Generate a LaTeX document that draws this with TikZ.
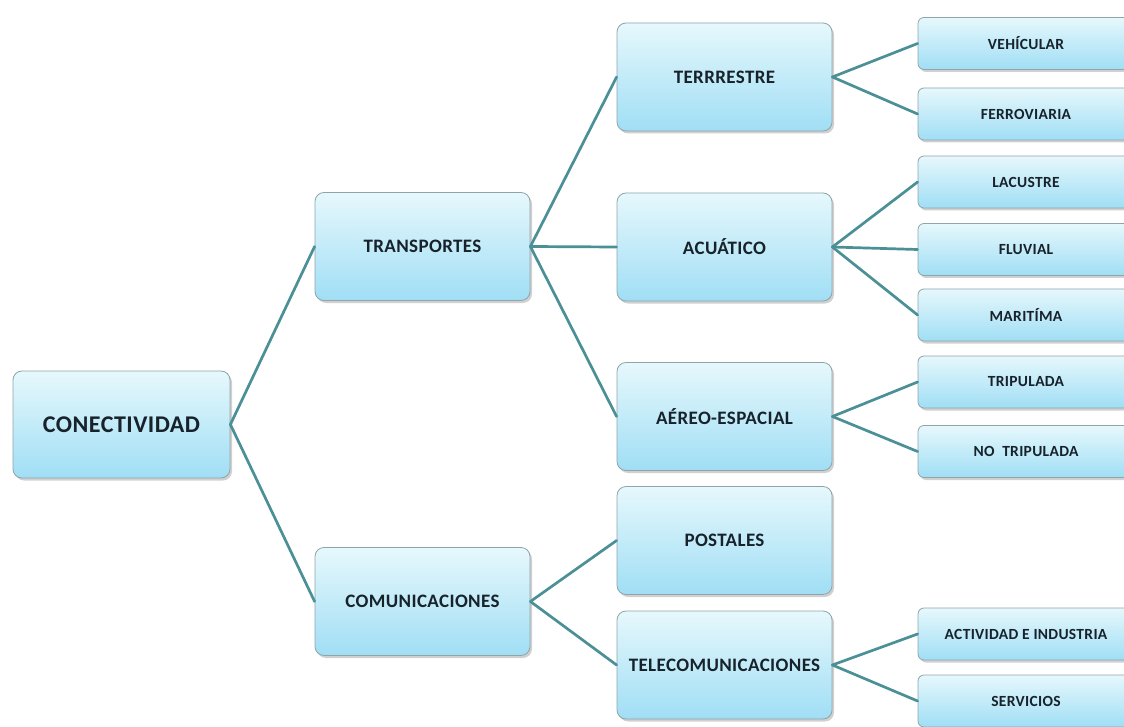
\documentclass[tikz,border=0pt]{standalone}
\usepackage{fontspec}
\setmainfont{Carlito}[LetterSpace=2]
\usetikzlibrary{shadows}
\definecolor{lnk}{HTML}{4A9096}
\definecolor{bord}{HTML}{8FA5AA}
\definecolor{ftop}{HTML}{E6F8FC}
\definecolor{fbot}{HTML}{A0DEF5}
\definecolor{txt}{HTML}{17222B}
\begin{document}
\begin{tikzpicture}[x=1pt,y=-1pt,
  box/.style={draw=bord, line width=0.8pt, rounded corners=9pt,
    top color=ftop, bottom color=fbot, minimum width=215pt, minimum height=108pt,
    inner sep=2pt, text=txt, font=\bfseries\fontsize{19}{22}\selectfont,
    drop shadow={shadow xshift=2pt, shadow yshift=-2.5pt, opacity=0.3, fill=black!60}},
  rootbox/.style={box, minimum width=217pt, minimum height=107pt, font=\bfseries\fontsize{24}{28}\selectfont},
  leaf/.style={box, rounded corners=6pt, minimum width=216pt, minimum height=52pt,
    font=\bfseries\fontsize{15.5}{18}\selectfont},
  link/.style={draw=lnk, line width=2.7pt, line cap=round}]
\path[use as bounding box, clip] (0,0) rectangle (1124,727);
\fill[white] (0,0) rectangle (1124,727);

\node[rootbox] (con) at (121.5,424.5) {CONECTIVIDAD};
\node[box] (tra) at (422.5,246.5) {TRANSPORTES};
\node[box] (com) at (422.5,601.5) {COMUNICACIONES};

\node[box] (ter) at (724.5,77) {TERRRESTRE};
\node[box] (acu) at (724.5,247) {ACUÁTICO};
\node[box] (aer) at (724.5,416.5) {AÉREO-ESPACIAL};
\node[box] (pos) at (724.5,540.5) {POSTALES};
\node[box] (tel) at (724.5,665) {TELECOMUNICACIONES};

\node[leaf] (veh) at (1026,43.5) {VEHÍCULAR};
\node[leaf] (fer) at (1026,114) {FERROVIARIA};
\node[leaf] (lac) at (1026,182) {LACUSTRE};
\node[leaf] (flu) at (1026,249.5) {FLUVIAL};
\node[leaf] (mar) at (1026,315) {MARITÍMA};
\node[leaf] (tri) at (1026,382) {TRIPULADA};
\node[leaf] (ntr) at (1026,451.5) {NO\ \ TRIPULADA};
\node[leaf] (act) at (1026,634) {ACTIVIDAD E INDUSTRIA};
\node[leaf] (ser) at (1026,701) {SERVICIOS};

\foreach \a/\b in {con/tra, con/com, tra/ter, tra/acu, tra/aer, com/pos, com/tel,
  ter/veh, ter/fer, acu/lac, acu/flu, acu/mar, aer/tri, aer/ntr, tel/act, tel/ser}
  \draw[link] (\a.east) -- (\b.west);
\end{tikzpicture}
\end{document}
